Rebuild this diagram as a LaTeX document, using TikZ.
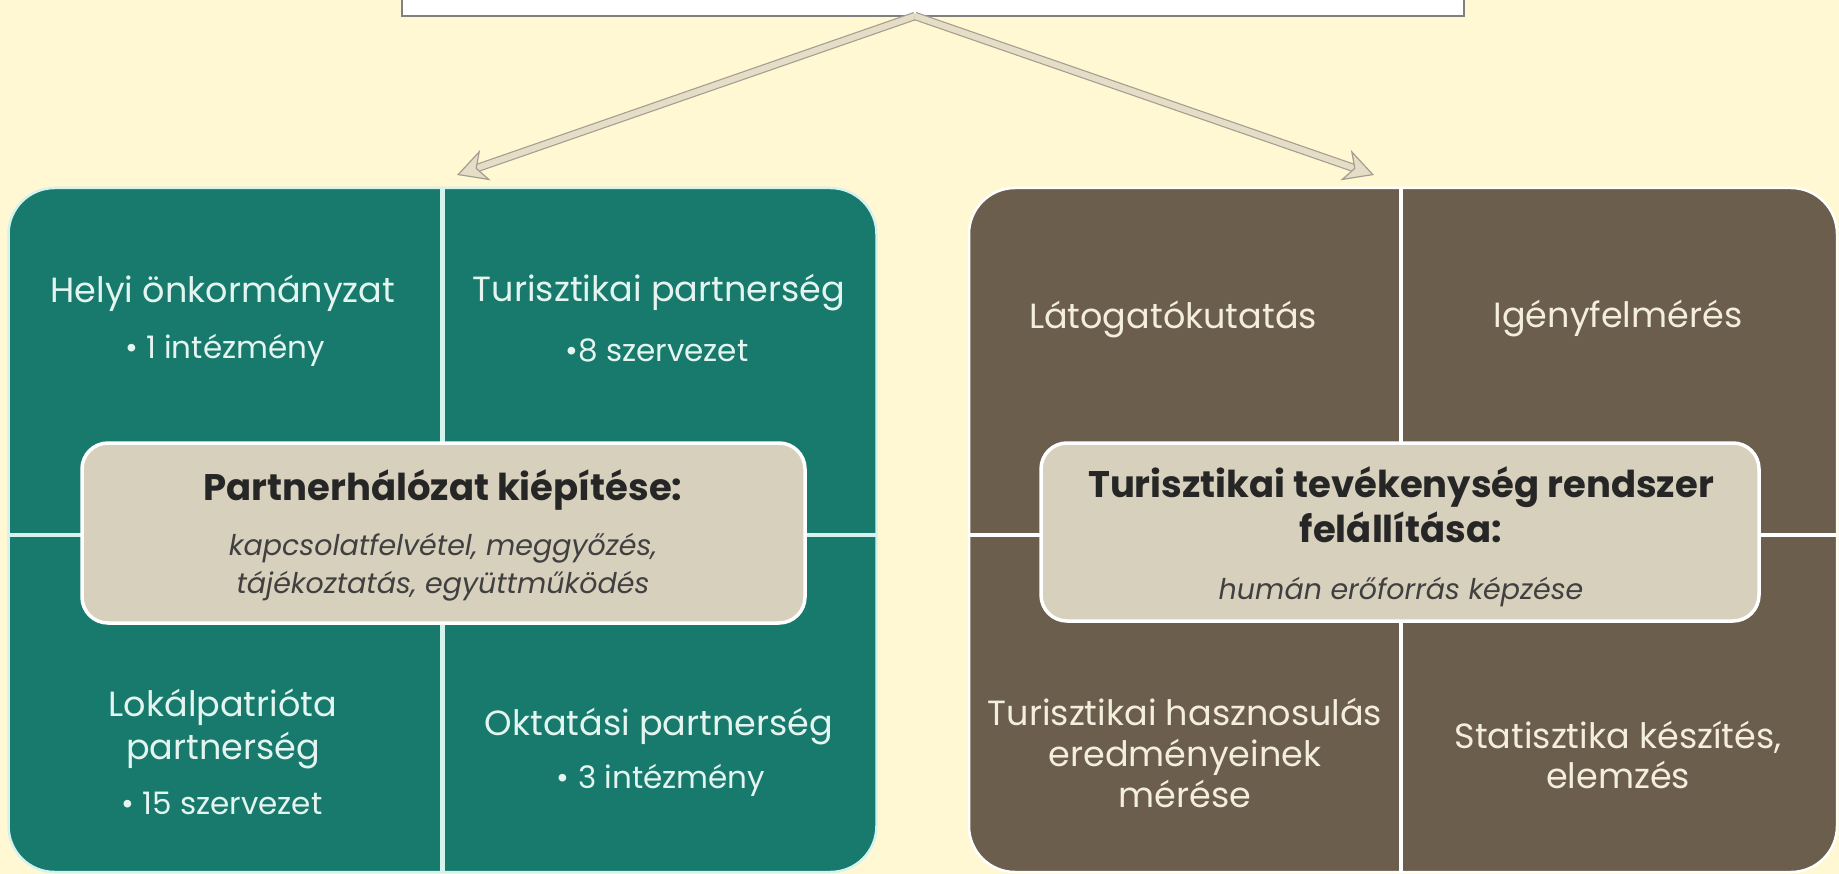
\documentclass[tikz,border=0pt]{standalone}
\usepackage{fontspec}
\setmainfont{Poppins}
\usetikzlibrary{arrows.meta}

\definecolor{cream}{HTML}{FFF8D2}
\definecolor{tealpanel}{HTML}{177A6D}
\definecolor{brownpanel}{HTML}{6B5E4C}
\definecolor{hubfill}{HTML}{D6D0BC}
\definecolor{forkfill}{HTML}{E6DDC6}
\definecolor{forkedge}{HTML}{A39E92}
\definecolor{tealtext}{HTML}{E4F5F0}
\definecolor{browntext}{HTML}{F4EEDF}
\definecolor{tealedge}{HTML}{D4F2EE}

\tikzset{
  panel/.style={rounded corners=46pt, line width=2.5pt, minimum width=868pt, minimum height=684pt, inner sep=0pt},
  hub/.style={rounded corners=26pt, fill=hubfill, draw=white, line width=3.5pt, inner sep=0pt},
  split/.style={line width=4.5pt},
  item/.style={align=center, font=\fontsize{35}{43}\selectfont},
  sub/.style={align=center, font=\fontsize{31}{36}\selectfont},
  hubtitle/.style={align=center, text=black!85, font=\fontsize{37}{45}\selectfont\bfseries},
  hubnote/.style={align=center, text=black!75, font=\fontsize{28.5}{38}\selectfont\itshape},
  fork/.style={draw=forkedge, line width=1.2pt, double=forkfill, double distance=6pt,
    -{Stealth[length=30pt, width=32pt, inset=9pt, fill=forkfill, line width=1.2pt]}},
}

\begin{document}
\begin{tikzpicture}[x=1pt,y=-1pt]
  \useasboundingbox (0,0) rectangle (1839,874);
  \fill[cream] (0,0) rectangle (1839,874);
  \clip (0,0) rectangle (1839,874);

  % top box, mostly off the page
  \node[draw=gray, line width=1.2pt, fill=white, minimum width=1062pt, minimum height=60pt] (goal) at (933,-14) {};
  \coordinate (apex) at (915,16);
  \coordinate (ltip) at (457,175);
  \coordinate (rtip) at (1374,175);
  \draw[fork] (apex) -- (ltip);
  \draw[fork] (apex) -- (rtip);

  % left panel
  \node[panel, fill=tealpanel, draw=tealedge] (lpanel) at (442.5,530) {};
  \draw[split, tealedge] (lpanel.north) -- (lpanel.south);
  \draw[split, tealedge] (lpanel.west |- 0,535) -- (lpanel.east |- 0,535);
  \node[hub, minimum width=723pt, minimum height=180pt] (lhub) at (443.5,533) {};
  \node[hubtitle] (lhub-t) at (443,490) {Partnerhálózat kiépítése:};
  \node[hubnote] (lhub-n) at (443,567) {kapcsolatfelvétel, meggyőzés,\\tájékoztatás, együttműködés};

  \node[item, text=tealtext] (helyi) at (223,293) {Helyi önkormányzat};
  \node[sub, text=tealtext] (helyi-b) at (225,350) {• 1 intézmény};
  \node[item, text=tealtext] (turp) at (659,293) {Turisztikai partnerség};
  \node[sub, text=tealtext] (turp-b) at (657,350) {•8 szervezet};
  \node[item, text=tealtext] (lokal) at (223,729) {Lokálpatrióta\\partnerség};
  \node[sub, text=tealtext] (lokal-b) at (222,803) {• 15 szervezet};
  \node[item, text=tealtext] (oktat) at (659,727) {Oktatási partnerség};
  \node[sub, text=tealtext] (oktat-b) at (661,780) {• 3 intézmény};

  % right panel
  \node[panel, fill=brownpanel, draw=white] (rpanel) at (1403,530) {};
  \draw[split, white] (rpanel.north -| 1401,0) -- (rpanel.south -| 1401,0);
  \draw[split, white] (rpanel.west |- 0,535) -- (rpanel.east |- 0,535);
  \node[hub, minimum width=718pt, minimum height=178pt] (rhub) at (1400,532) {};
  \node[hubtitle] (rhub-t) at (1401,505) {Turisztikai tevékenység rendszer\\felállítása:};
  \node[hubnote] (rhub-n) at (1401,592) {humán erőforrás képzése};

  \node[item, text=browntext] (latog) at (1173,319) {Látogatókutatás};
  \node[item, text=browntext] (igeny) at (1618,319) {Igényfelmérés};
  \node[item, text=browntext, font=\fontsize{35}{41}\selectfont] (haszn) at (1185,753) {Turisztikai hasznosulás\\eredményeinek\\mérése};
  \node[item, text=browntext, font=\fontsize{35}{40}\selectfont] (stat) at (1618,755) {Statisztika készítés,\\elemzés};
\end{tikzpicture}
\end{document}
